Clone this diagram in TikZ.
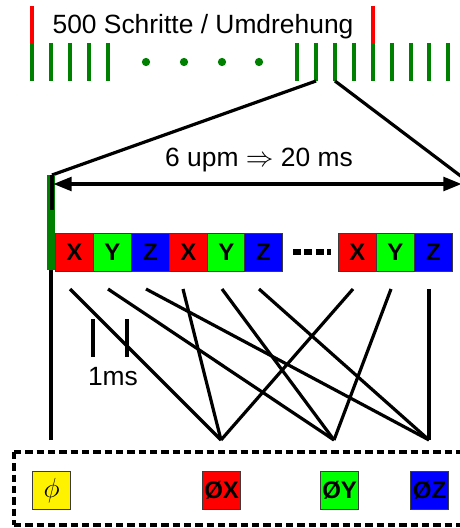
\documentclass[tikz,border=0pt]{standalone}
\usepackage{fontspec}
\setmainfont{Liberation Sans}
\usetikzlibrary{arrows.meta}
\definecolor{tickgreen}{RGB}{0,128,0}
\definecolor{boxgray}{RGB}{60,60,60}
\begin{document}
\begin{tikzpicture}[x=0.75pt,y=-0.75pt,
  tick/.style={draw=tickgreen,line width=2.5pt},
  redtick/.style={draw=red,line width=2.5pt},
  conn/.style={draw=black,line width=2.4pt},
  cell/.style={draw=boxgray,line width=0.8pt,minimum width=28.4pt,minimum height=28.4pt,inner sep=0pt,anchor=north west,font=\fontsize{18}{20}\selectfont\bfseries},
  outbox/.style={draw=boxgray,line width=0.8pt,minimum width=28.6pt,minimum height=28.4pt,inner sep=0pt,anchor=north west},
  outtxt/.style={font=\fontsize{18}{20}\selectfont\bfseries},
  lbl/.style={font=\fontsize{19.8}{22}\selectfont,inner sep=0pt}]
\useasboundingbox (0,0) rectangle (460,528);
\clip (0,0) rectangle (460,528);
% red ticks
\draw[redtick] (32,6) -- (32,43);
\draw[redtick] (373,6) -- (373,43);
% green ticks
\foreach \x in {32,51,70,89,108,297,316,335,354,373,392,411,429,448}
  \draw[tick] (\x,43) -- (\x,81);
\foreach \x in {146,184,222,259}
  \fill[tickgreen] (\x,62) circle (3.1pt);
\node[lbl] (title) at (203,27) {500 Schritte / Umdrehung};
% zoom lines
\coordinate (tA) at (316,81);
\coordinate (tB) at (335,81);
\coordinate (zL) at (52,175);
\coordinate (zR) at (462,177);
\draw[conn] (tA) -- (zL);
\draw[conn] (tB) -- (zR);
% green bar and black line
\fill[tickgreen] (47,175) rectangle (55,270);
\draw[conn] (52,175) -- (52,210);
\coordinate (vtop) at (51,270);
\coordinate (vbot) at (51,440);
\draw[conn] (vtop) -- (vbot);
% arrow
\coordinate (aL) at (53,184);
\coordinate (aR) at (462,184);
\draw[line width=3.2pt,{Triangle[length=14pt,width=10pt]}-{Triangle[length=14pt,width=10pt]}] (aL) -- (aR);
\node[lbl] (period) at (259,160) {6 upm $\Rightarrow$ 20 ms};
% cells
\node[cell,fill=red]   (x1) at (55,233)  {X};
\node[cell,fill=green] (y1) at (93,233)  {Y};
\node[cell,fill=blue]  (z1) at (131,233) {Z};
\node[cell,fill=red]   (x2) at (169,233) {X};
\node[cell,fill=green] (y2) at (207,233) {Y};
\node[cell,fill=blue]  (z2) at (244,233) {Z};
\node[cell,fill=red]   (x3) at (338,233) {X};
\node[cell,fill=green] (y3) at (376,233) {Y};
\node[cell,fill=blue]  (z3) at (414,233) {Z};
\coordinate (dL) at (293,252);
\coordinate (dR) at (331,252);
\draw[line width=5.2pt,dash pattern=on 6pt off 2.6pt] (dL) -- (dR);
% connectors
\coordinate (x1t) at (70,289);
\coordinate (y1t) at (108,289);
\coordinate (z1t) at (146,289);
\coordinate (x2t) at (183,289);
\coordinate (y2t) at (222,289);
\coordinate (z2t) at (259,289);
\coordinate (x3t) at (353,289);
\coordinate (y3t) at (391,289);
\coordinate (z3t) at (429,289);
\coordinate (pX) at (221,440);
\coordinate (pY) at (334,440);
\coordinate (pZ) at (429,440);
\draw[conn] (x1t) -- (pX);
\draw[conn] (x2t) -- (pX);
\draw[conn] (x3t) -- (pX);
\draw[conn] (y1t) -- (pY);
\draw[conn] (y2t) -- (pY);
\draw[conn] (y3t) -- (pY);
\draw[conn] (z1t) -- (pZ);
\draw[conn] (z2t) -- (pZ);
\draw[conn] (z3t) -- (pZ);
% 1ms marker
\coordinate (m1t) at (93,319);
\coordinate (m1b) at (93,357);
\coordinate (m2t) at (127,319);
\coordinate (m2b) at (127,357);
\draw[conn] (m1t) -- (m1b);
\draw[conn] (m2t) -- (m2b);
\node[lbl] (ms) at (113,377) {1ms};
% dashed frame
\draw[line width=2.4pt,dash pattern=on 5.5pt off 3pt] (14,452) -- (470,452);
\draw[line width=2.4pt,dash pattern=on 5.5pt off 3pt] (14,525) -- (470,525);
\draw[line width=2.4pt,dash pattern=on 5.5pt off 3pt] (14,452) -- (14,525);
% output boxes
\node[outbox,fill=yellow] (phi) at (32,471) {\fontsize{21}{22}\selectfont$\phi$};
\node[outbox,fill=red]   (ox) at (202,471) {};
\node[outbox,fill=green] (oy) at (320,471) {};
\node[outbox,fill=blue]  (oz) at (410,471) {};
\node[outtxt] at (ox.center) {ØX};
\node[outtxt] at (oy.center) {ØY};
\node[outtxt] at (oz.center) {ØZ};
\end{tikzpicture}
\end{document}
